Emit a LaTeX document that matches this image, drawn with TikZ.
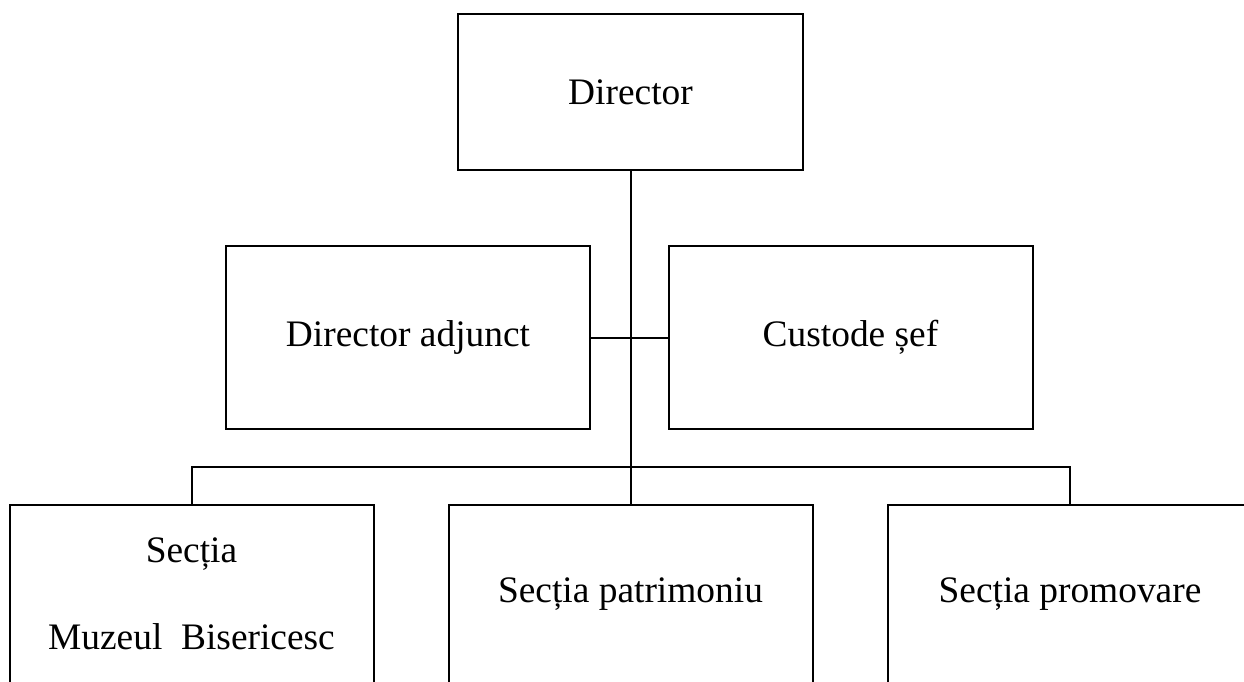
\documentclass[tikz,border=0pt]{standalone}
\usepackage{fontspec}
\setmainfont{Liberation Serif}
\usepackage{tikz}

\tikzset{
    post/.style={draw, line width=1pt, minimum width=182pt, font=\fontsize{18.7}{43.5}\selectfont, align=center}
}

\begin{document}
\begin{tikzpicture}[x=0.5pt, y=-0.5pt, line width=1pt]
            \useasboundingbox (0,0) rectangle (1244,681);
            \node[post, minimum width=172.5pt, minimum height=78pt] (1) at (630.5,92) {Director};
            \node[post, minimum height=91.5pt] (2) at (408,337.5) {Director adjunct};
            \node[post, minimum height=91.5pt] (3) at (850.5,337.5) {Custode șef};
            \node[post, minimum height=89pt] (4) at (191.5,594) {Secția\\Muzeul\ \ Bisericesc};
            \node[post, minimum height=89pt] (5) at (630.5,594) {Secția patrimoniu};
            \node[post, minimum height=89pt] (6) at (1070,594) {Secția promovare};
            \coordinate (bus) at (630.5,466.5);
            \draw (1) to (5);
            \draw (2) to (3);
            \draw (4) |- (bus) -| (6);
        \end{tikzpicture}
\end{document}
